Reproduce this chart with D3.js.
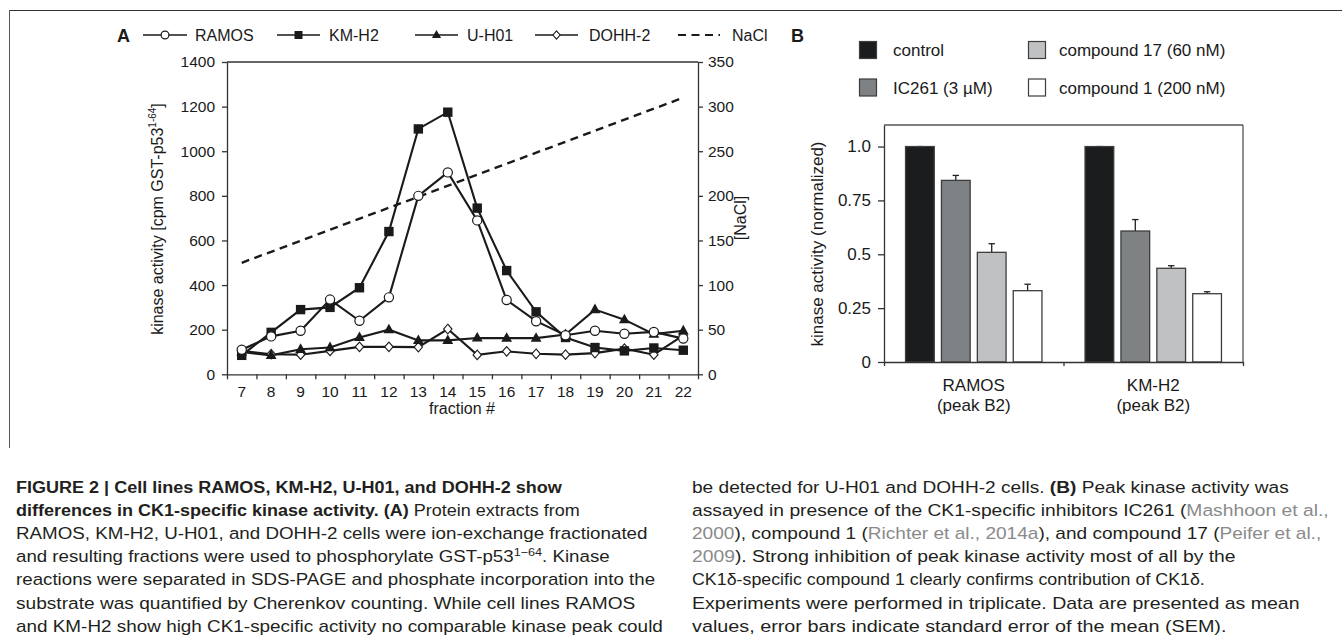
<!DOCTYPE html>
<html><head><meta charset="utf-8">
<script src="https://cdn.jsdelivr.net/npm/d3@7"></script>
<style>body{margin:0;background:#fff;} svg{display:block;font-family:"Liberation Sans",Arial,sans-serif;}</style>
</head><body><svg id="c" width="1342" height="643"></svg>
<script>
// ---------- Data: panel A ----------
const fractions = [7,8,9,10,11,12,13,14,15,16,17,18,19,20,21,22];
const ramos = [110,170,195,335,240,345,800,905,690,333,238,175,195,182,190,160];
const kmh2  = [85,188,290,300,388,640,1100,1175,745,465,280,165,120,105,118,108];
const uh01  = [100,85,112,120,165,200,152,152,163,162,162,178,290,245,180,195];
const dohh2 = [105,90,88,105,123,123,122,203,87,103,92,88,95,115,88,175];
const naclFractions = [7,22];
const naclValues = [125,310];
const leftTicks = [0,200,400,600,800,1000,1200,1400];
const rightTicks = [0,50,100,150,200,250,300,350];
const seriesNames = ["RAMOS","KM-H2","U-H01","DOHH-2","NaCl"];

// ---------- Data: panel B ----------
const cellLines = ["RAMOS","KM-H2"];
const cellSub = ["(peak B2)","(peak B2)"];
const treatments = ["control","IC261 (3 µM)","compound 17 (60 nM)","compound 1 (200 nM)"];
const treatColors = ["#1b1c1e","#7e8285","#c0c1c3","#ffffff"];
const ramosActivity = [1.0,0.843,0.509,0.331];
const ramosSem = [0.0,0.023,0.040,0.030];
const kmh2Activity = [1.0,0.608,0.435,0.317];
const kmh2Sem = [0.0,0.053,0.012,0.009];
const bTicks = [0,0.25,0.5,0.75,1.0];
const bTickLabels = ["0","0.25","0.5","0.75","1.0"];

const svg = d3.select("#c");
const ink = "#1a1a1a";
const FA = 15.5, FB = 17;

// frame
svg.append("line").attr("x1",9).attr("x2",1342).attr("y1",10.5).attr("y2",10.5).attr("stroke","#333").attr("stroke-width",1);
svg.append("line").attr("x1",9.5).attr("x2",9.5).attr("y1",10).attr("y2",448).attr("stroke","#555").attr("stroke-width",1);

// ================= PANEL A =================
const x = d3.scaleBand().domain(fractions).range([227,698]);
const xc = f => x(f) + x.bandwidth()/2;
const xEdges = d3.scaleLinear().domain([6.5,22.5]).range([227,698]);
const yL = d3.scaleLinear().domain([0,1400]).range([374.3,62]);
const yR = d3.scaleLinear().domain([0,350]).range([374.3,62]);

const gA = svg.append("g");
function styleAxis(g, fs){
  g.attr("font-size",fs).attr("font-family","Liberation Sans, Arial, sans-serif");
  g.selectAll("path,line").attr("stroke","#333").attr("stroke-width",1.3);
  g.selectAll("text").attr("font-size",fs).attr("fill",ink);
}
gA.append("g").attr("transform","translate(227,0)")
  .call(d3.axisLeft(yL).tickValues(leftTicks).tickFormat(d3.format("d")).tickSize(5).tickSizeOuter(0).tickPadding(7))
  .call(g=>styleAxis(g,FA));
gA.append("g").attr("transform","translate(698,0)")
  .call(d3.axisRight(yR).tickValues(rightTicks).tickFormat(d3.format("d")).tickSize(5).tickSizeOuter(0).tickPadding(5))
  .call(g=>styleAxis(g,FA));
gA.append("g").attr("transform","translate(0,374.3)")
  .call(d3.axisBottom(xEdges).tickValues(d3.range(6.5,23,1)).tickFormat("").tickSize(5).tickSizeOuter(0))
  .call(g=>styleAxis(g,FA));
gA.append("g").attr("transform","translate(0,374.3)")
  .call(d3.axisBottom(x).tickSize(0).tickPadding(11.5))
  .call(g=>{g.select(".domain").remove(); styleAxis(g,FA);});
gA.append("line").attr("x1",227).attr("x2",698).attr("y1",62).attr("y2",62).attr("stroke","#333").attr("stroke-width",1.3);

// axis titles
gA.append("text").attr("x",462).attr("y",414).attr("text-anchor","middle").attr("font-size",16).attr("fill",ink).text("fraction #");
const ylab = gA.append("text").attr("transform","translate(163,219) rotate(-90)").attr("text-anchor","middle").attr("font-size",16).attr("fill",ink);
ylab.append("tspan").text("kinase activity [cpm GST-p53");
ylab.append("tspan").attr("dy",-7).attr("font-size",10).text("1-64");
ylab.append("tspan").attr("dy",7).text("]");
gA.append("text").attr("transform","translate(746,218) rotate(-90)").attr("text-anchor","middle").attr("font-size",16).attr("fill",ink).text("[NaCl]");

// lines
const line = d3.line().x((d)=>xc(d[0])).y(d=>yL(d[1]));
const lineW = 2.1;
gA.append("path").datum(naclFractions.map((f,i)=>[f,naclValues[i]]))
  .attr("d", d3.line().x(d=>xc(d[0])).y(d=>yR(d[1])))
  .attr("fill","none").attr("stroke",ink).attr("stroke-width",2.4).attr("stroke-dasharray","8,5.5");
const seriesData = [
  {name:"DOHH-2", vals:dohh2, sym:"diamond"},
  {name:"U-H01", vals:uh01, sym:"triangle"},
  {name:"KM-H2", vals:kmh2, sym:"square"},
  {name:"RAMOS", vals:ramos, sym:"circle"}
];
seriesData.forEach(s=>{
  gA.append("path").datum(fractions.map((f,i)=>[f,s.vals[i]])).attr("d",line)
    .attr("fill","none").attr("stroke",ink).attr("stroke-width",lineW);
});
function marker(g, sym, cx, cy, scale=1){
  if(sym==="circle") g.append("circle").attr("cx",cx).attr("cy",cy).attr("r",4.6*scale).attr("fill","#fff").attr("stroke",ink).attr("stroke-width",1.2);
  else if(sym==="square") g.append("rect").attr("x",cx-4.7*scale).attr("y",cy-4.7*scale).attr("width",9.4*scale).attr("height",9.4*scale).attr("fill",ink);
  else if(sym==="triangle") g.append("path").attr("d",`M${cx},${cy-6*scale}L${cx+5.4*scale},${cy+3.6*scale}L${cx-5.4*scale},${cy+3.6*scale}Z`).attr("fill",ink);
  else if(sym==="diamond") g.append("path").attr("d",`M${cx},${cy-4.8*scale}L${cx+4.2*scale},${cy}L${cx},${cy+4.8*scale}L${cx-4.2*scale},${cy}Z`).attr("fill","#fff").attr("stroke",ink).attr("stroke-width",1.1);
}
seriesData.forEach(s=>{
  fractions.forEach((f,i)=>marker(gA,s.sym,xc(f),yL(s.vals[i])));
});

// legend A
svg.append("text").attr("x",117).attr("y",42).attr("font-size",18).attr("font-weight","bold").attr("fill",ink).text("A");
const legA = [
  {name:seriesNames[0], sym:"circle", x1:143, x2:187, tx:195},
  {name:seriesNames[1], sym:"square", x1:277, x2:320, tx:329},
  {name:seriesNames[2], sym:"triangle", x1:415, x2:458, tx:467},
  {name:seriesNames[3], sym:"diamond", x1:535, x2:578, tx:589},
  {name:seriesNames[4], sym:"dash", x1:678, x2:720, tx:732}
];
legA.forEach(l=>{
  const ly = 35;
  const ln = svg.append("line").attr("x1",l.x1).attr("x2",l.x2).attr("y1",ly).attr("y2",ly).attr("stroke",ink).attr("stroke-width", l.sym==="dash"?2:1.6);
  if(l.sym==="dash") ln.attr("stroke-dasharray","8,5.5");
  else marker(svg,l.sym,(l.x1+l.x2)/2,ly,0.85);
  svg.append("text").attr("x",l.tx).attr("y",41).attr("font-size",16).attr("fill",ink).text(l.name);
});

// ================= PANEL B =================
const gB = svg.append("g");
const xg = d3.scaleBand().domain(cellLines).range([884,1243]);
const xt = d3.scaleBand().domain(treatments).range([0,xg.bandwidth()]).paddingInner(0.2).paddingOuter(0.6);
const yB = d3.scaleLinear().domain([0,1.1]).range([362,125]);
const bData = [ {cell:"RAMOS", vals:ramosActivity, sem:ramosSem}, {cell:"KM-H2", vals:kmh2Activity, sem:kmh2Sem} ];

bData.forEach(gd=>{
  treatments.forEach((t,i)=>{
    const bx = xg(gd.cell)+xt(t);
    const v = gd.vals[i], e = gd.sem[i];
    const cx = bx + xt.bandwidth()/2;
    gB.append("line").attr("x1",cx).attr("x2",cx).attr("y1",yB(v)).attr("y2",yB(v+e)).attr("stroke","#222").attr("stroke-width",1.3);
    gB.append("line").attr("x1",cx-3.2).attr("x2",cx+3.2).attr("y1",yB(v+e)).attr("y2",yB(v+e)).attr("stroke","#222").attr("stroke-width",1.3);
    gB.append("rect").attr("x",bx).attr("y",yB(v)).attr("width",xt.bandwidth()).attr("height",yB(0)-yB(v))
      .attr("fill",treatColors[i]).attr("stroke","#3d3d3d").attr("stroke-width",1.3);
  });
});
gB.append("g").attr("transform","translate(884,0)")
  .call(d3.axisLeft(yB).tickValues(bTicks).tickFormat((d,i)=>bTickLabels[i]).tickSize(6).tickSizeOuter(0).tickPadding(7))
  .call(g=>styleAxis(g,FB));
gB.append("g").attr("transform","translate(0,362)")
  .call(d3.axisBottom(d3.scaleLinear().domain([0,2]).range([884,1243])).tickValues([0,1,2]).tickFormat("").tickSize(4).tickSizeOuter(0))
  .call(g=>styleAxis(g,FB));
gB.append("line").attr("x1",884).attr("x2",1243).attr("y1",125).attr("y2",125).attr("stroke","#555").attr("stroke-width",1.3);
gB.append("line").attr("x1",1243).attr("x2",1243).attr("y1",125).attr("y2",362).attr("stroke","#555").attr("stroke-width",1.3);
cellLines.forEach((c,i)=>{
  const cx = xg(c)+xg.bandwidth()/2;
  gB.append("text").attr("x",cx).attr("y",391).attr("text-anchor","middle").attr("font-size",FB).attr("fill",ink).text(c);
  gB.append("text").attr("x",cx).attr("y",410.5).attr("text-anchor","middle").attr("font-size",FB).attr("fill",ink).text(cellSub[i]);
});
gB.append("text").attr("transform","translate(823,244) rotate(-90)").attr("text-anchor","middle").attr("font-size",FB).attr("fill",ink).text("kinase activity (normalized)");

// legend B
svg.append("text").attr("x",791).attr("y",42).attr("font-size",18).attr("font-weight","bold").attr("fill",ink).text("B");
const legB = [
  {i:0, sx:859.5, sy:41.5, tx:893},
  {i:1, sx:859.5, sy:79, tx:893},
  {i:2, sx:1028.5, sy:41.5, tx:1059},
  {i:3, sx:1028.5, sy:79, tx:1059}
];
legB.forEach(l=>{
  svg.append("rect").attr("x",l.sx).attr("y",l.sy).attr("width",17).attr("height",17).attr("fill",treatColors[l.i]).attr("stroke","#3d3d3d").attr("stroke-width",1.2);
  svg.append("text").attr("x",l.tx).attr("y",l.sy+14.5).attr("font-size",FB).attr("fill",ink).text(treatments[l.i]);
});

// ================= CAPTION =================
const capLeft = [
  {w:546, segs:[["FIGURE 2 | Cell lines RAMOS, KM-H2, U-H01, and DOHH-2 show","b"]]},
  {w:564, segs:[["differences in CK1-specific kinase activity.","b"],[" ","n"],["(A)","b"],[" Protein extracts from","n"]]},
  {w:632, segs:[["RAMOS, KM-H2, U-H01, and DOHH-2 cells were ion-exchange fractionated","n"]]},
  {w:594, segs:[["and resulting fractions were used to phosphorylate GST-p53","n"],["1\u221264","sup"],[". Kinase","n"]]},
  {w:640, segs:[["reactions were separated in SDS-PAGE and phosphate incorporation into the","n"]]},
  {w:620, segs:[["substrate was quantified by Cherenkov counting. While cell lines RAMOS","n"]]},
  {w:647, segs:[["and KM-H2 show high CK1-specific activity no comparable kinase peak could","n"]]}
];
const capRight = [
  {w:597, segs:[["be detected for U-H01 and DOHH-2 cells. ","n"],["(B)","b"],[" Peak kinase activity was","n"]]},
  {w:637, segs:[["assayed in presence of the CK1-specific inhibitors IC261 (","n"],["Mashhoon et al.,","g"]]},
  {w:630, segs:[["2000","g"],["), compound 1 (","n"],["Richter et al., 2014a","g"],["), and compound 17 (","n"],["Peifer et al.,","g"]]},
  {w:544, segs:[["2009","g"],["). Strong inhibition of peak kinase activity most of all by the","n"]]},
  {w:513, segs:[["CK1\u03b4-specific compound 1 clearly confirms contribution of CK1\u03b4.","n"]]},
  {w:608, segs:[["Experiments were performed in triplicate. Data are presented as mean","n"]]},
  {w:535, segs:[["values, error bars indicate standard error of the mean (SEM).","n"]]}
];
function drawCaption(lines, x0, y0){
  lines.forEach((ln,i)=>{
    const g = svg.append("g");
    const t = g.append("text").attr("x",0).attr("y",0).attr("font-size",17).attr("fill","#231f20");
    ln.segs.forEach((s,k)=>{
      const ts = t.append("tspan").text(s[0]);
      if(s[1]==="b") ts.attr("font-weight","bold");
      if(s[1]==="g") ts.attr("fill","#8a8a8a");
      if(s[1]==="sup") ts.attr("font-size",11.5).attr("dy",-6.5);
      if(k>0 && ln.segs[k-1][1]==="sup") ts.attr("dy",6.5);
    });
    const nat = t.node().getComputedTextLength();
    const sx = ln.w / nat;
    g.attr("transform",`translate(${x0},${y0+i*23.2}) scale(${sx},1)`);
  });
}
drawCaption(capLeft,16,492.5);
drawCaption(capRight,692,492.5);
</script></body></html>
